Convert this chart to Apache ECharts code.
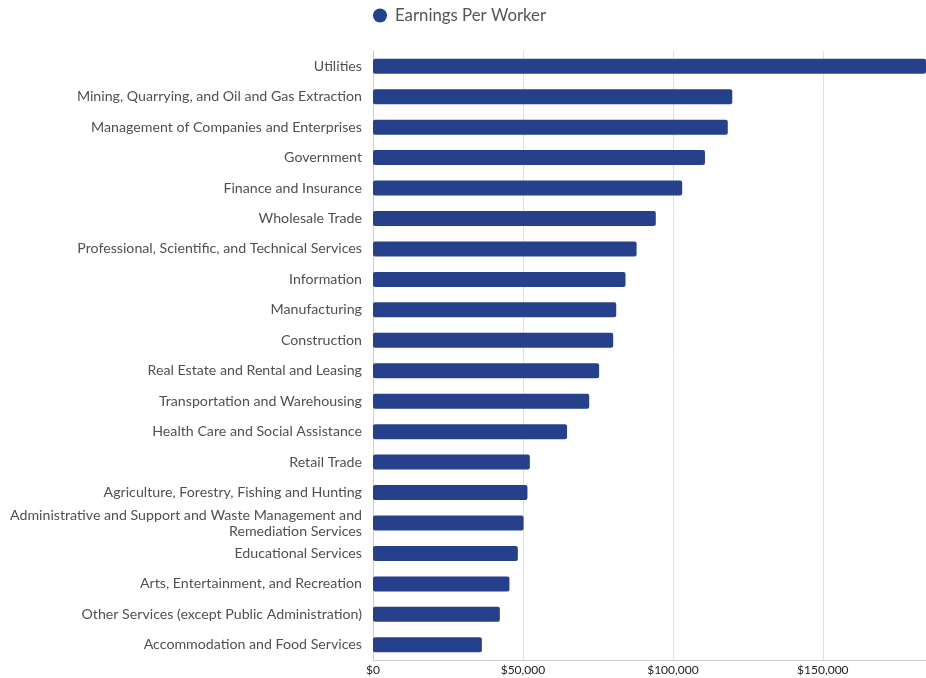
<!DOCTYPE html>
<html>
<head>
<meta charset="utf-8">
<script src="https://cdn.jsdelivr.net/npm/echarts@6/dist/echarts.min.js"></script>
<style>
html,body{margin:0;padding:0;background:#fff;}
#c{width:926px;height:678px;}
</style>
</head>
<body>
<div id="c"></div>
<script>
const categories = [
  "Utilities",
  "Mining, Quarrying, and Oil and Gas Extraction",
  "Management of Companies and Enterprises",
  "Government",
  "Finance and Insurance",
  "Wholesale Trade",
  "Professional, Scientific, and Technical Services",
  "Information",
  "Manufacturing",
  "Construction",
  "Real Estate and Rental and Leasing",
  "Transportation and Warehousing",
  "Health Care and Social Assistance",
  "Retail Trade",
  "Agriculture, Forestry, Fishing and Hunting",
  "Administrative and Support and Waste Management and Remediation Services",
  "Educational Services",
  "Arts, Entertainment, and Recreation",
  "Other Services (except Public Administration)",
  "Accommodation and Food Services"
];
const earnings = [
  190000, 119800, 118300, 110700, 103100, 94300, 87900, 84200, 81100, 80100,
  75400, 72100, 64700, 52300, 51500, 50200, 48300, 45500, 42300, 36300
];
const seriesName = "Earnings Per Worker";
const xMax = 184400;

const chart = echarts.init(document.getElementById('c'));
chart.setOption({
  animation: false,
  textStyle: { fontFamily: 'Lato, "Open Sans", sans-serif' },
  legend: {
    top: 2,
    left: 368,
    icon: 'circle',
    itemWidth: 14,
    itemHeight: 14,
    itemGap: 8,
    textStyle: { fontSize: 16.8, color: '#555', fontFamily: 'Lato', padding: [0, 0, 0, 3] },
    data: [seriesName]
  },
  grid: { left: 373, right: 0, top: 51, bottom: 18, containLabel: false },
  xAxis: {
    type: 'value',
    min: 0,
    max: xMax,
    interval: 50000,
    axisLine: { show: true, lineStyle: { color: '#ccc' } },
    axisTick: { show: false },
    splitLine: { show: true, lineStyle: { color: '#e0e0e0', width: 1 } },
    axisLabel: {
      fontSize: 12, color: '#222', fontFamily: 'Lato', margin: 4,
      showMaxLabel: false,
      formatter: v => '$' + v.toLocaleString('en-US')
    }
  },
  yAxis: {
    type: 'category',
    inverse: true,
    data: categories,
    axisLine: { show: true, lineStyle: { color: '#ccc' } },
    axisTick: { show: false },
    axisLabel: {
      fontSize: 14.2, color: '#505050', fontFamily: 'Lato', margin: 11, lineHeight: 16,
      align: 'right',
      formatter: v => v.replace(' Remediation Services', '\nRemediation Services')
    }
  },
  series: [{
    name: seriesName,
    type: 'bar',
    data: earnings,
    barWidth: 15,
    itemStyle: { color: '#27408b', borderRadius: 2 },
    clip: true
  }]
});
</script>
</body>
</html>
